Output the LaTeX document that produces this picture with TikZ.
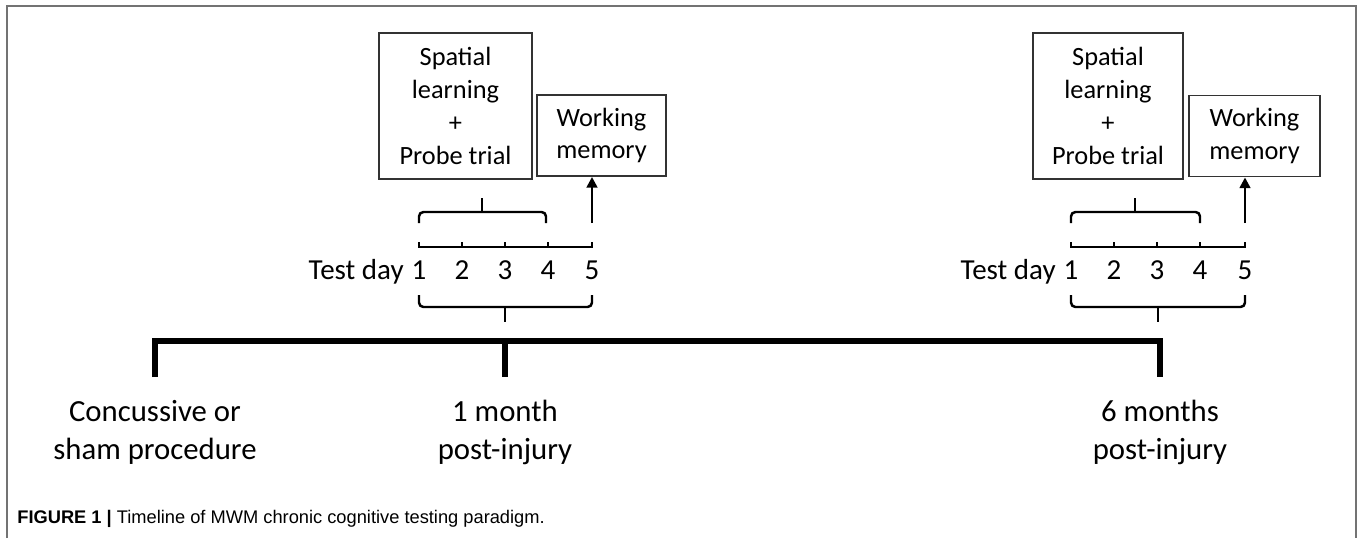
\documentclass[tikz,border=0pt]{standalone}
\usepackage{fontspec}
\setmainfont{Carlito}
\newfontfamily\capfont{Liberation Sans}
\usetikzlibrary{positioning}
\usetikzlibrary{arrows.meta}

\tikzset{
  taskbox/.style={draw=black!80,line width=1.1pt,align=center,inner sep=0pt,
    font=\fontsize{15}{18.7}\selectfont},
  daynum/.style={inner sep=0pt,anchor=base,font=\fontsize{16.5}{20}\selectfont},
  stage/.style={align=center,inner sep=0pt,font=\fontsize{17.5}{21.6}\selectfont},
  bracket/.style={line width=1.4pt,rounded corners=2.5pt},
  dayline/.style={line width=1.4pt},
  timeline/.style={line width=3.4pt},
}

\begin{document}
\begin{tikzpicture}[x=0.02cm,y=-0.02cm]
\useasboundingbox (0,0) rectangle (1360,538);
\draw[black!55,line width=1.1pt] (7,538) -- (7,6) -- (1356,6) -- (1356,538);

% main timeline
\coordinate (t0) at (155,341);
\coordinate (t1) at (505,341);
\coordinate (t2) at (1160,341);
\coordinate (e0) at (155,377);
\coordinate (e1) at (505,377);
\coordinate (e2) at (1160,377);
\draw[timeline] (e0) -- (t0) -- (t2) -- (e2);
\draw[timeline] (t1) -- (e1);
\node[stage] (sham) at (155,432) {Concussive or\\sham procedure};
\node[stage] (oneM) at (505,432) {1 month\\post-injury};
\node[stage] (sixM) at (1160,432) {6 months\\post-injury};

% 1 month test week
\node[taskbox,minimum width=3.06cm,minimum height=2.92cm] (spA) at (455.5,106) {Spatial\\learning\\+\\Probe trial};
\node[taskbox,minimum width=2.58cm,minimum height=1.62cm] (wmA) at (601.5,135.5) {Working\\memory};
\draw[bracket] (419,223) -- (419,212) -- (546,212) -- (546,223);
\draw[bracket] (482,212) -- (482,198);
\draw[dayline] (419,242) -- (419,247) -- (592,247) -- (592,242);
\foreach \x in {462,505,548} \draw[dayline] (\x,247) -- (\x,242);
\node[daynum] (a1) at (419,279) {1};
\node[daynum] (a2) at (462,279) {2};
\node[daynum] (a3) at (505,279) {3};
\node[daynum] (a4) at (548,279) {4};
\node[daynum] (a5) at (592,279) {5};
\node[daynum,anchor=base east] (tdA) at (404,279) {Test day};
\draw[bracket] (419,295) -- (419,307) -- (592,307) -- (592,295);
\draw[bracket] (505,307) -- (505,322);
\coordinate (wmAfoot) at (592,223);
\draw[dayline,-{Triangle[length=6pt,width=6pt]}] (wmAfoot) -- (wmAfoot |- wmA.south);

% 6 months test week
\node[taskbox,minimum width=3.0cm,minimum height=2.92cm] (spB) at (1108,106) {Spatial\\learning\\+\\Probe trial};
\node[taskbox,minimum width=2.62cm,minimum height=1.62cm] (wmB) at (1254.5,136) {Working\\memory};
\draw[bracket] (1071,223) -- (1071,212) -- (1200,212) -- (1200,223);
\draw[bracket] (1135,212) -- (1135,198);
\draw[dayline] (1071,242) -- (1071,247) -- (1245,247) -- (1245,242);
\foreach \x in {1114,1157,1200} \draw[dayline] (\x,247) -- (\x,242);
\node[daynum] (b1) at (1071,279) {1};
\node[daynum] (b2) at (1114,279) {2};
\node[daynum] (b3) at (1157,279) {3};
\node[daynum] (b4) at (1200,279) {4};
\node[daynum] (b5) at (1245,279) {5};
\node[daynum,anchor=base east] (tdB) at (1056,279) {Test day};
\draw[bracket] (1071,295) -- (1071,307) -- (1245,307) -- (1245,295);
\draw[bracket] (1158,307) -- (1158,322);
\coordinate (wmBfoot) at (1245,223);
\draw[dayline,-{Triangle[length=6pt,width=6pt]}] (wmBfoot) -- (wmBfoot |- wmB.south);

% caption
\node[anchor=base west,inner sep=0pt,font=\capfont\fontsize{10.4}{12}\selectfont] (cap) at (17,523)
  {\textbf{FIGURE 1 |} Timeline of MWM chronic cognitive testing paradigm.};
\end{tikzpicture}
\end{document}
